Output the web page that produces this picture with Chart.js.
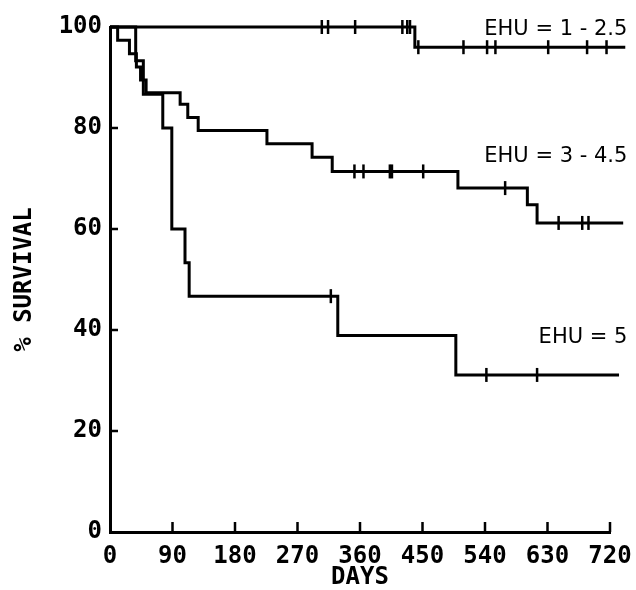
<!DOCTYPE html>
<html>
<head>
<meta charset="utf-8">
<script src="https://cdn.jsdelivr.net/npm/chart.js@4.4.1/dist/chart.umd.min.js"></script>
<style>
  body { margin: 0; background: #fff; }
  canvas { display: block; }
</style>
</head>
<body>
<canvas id="survivalChart" width="636" height="590"></canvas>
<script>
// Kaplan-Meier curves: days and % survival
const lowDays = [0, 439, 742];
const lowPct = [100, 96, 96];
const lowCensorDays = [305, 314, 353, 421, 428, 432, 444, 509, 543, 555, 631, 687, 715];
const lowCensorPct = [100, 100, 100, 100, 100, 100, 96, 96, 96, 96, 96, 96, 96];

const midDays = [0, 11, 28, 38, 44, 52, 101, 112, 127, 226, 291, 320, 501, 601, 615, 739];
const midPct = [100, 97.4, 94.7, 92.1, 89.5, 87, 84.7, 82.1, 79.5, 76.9, 74.2, 71.4, 68.1, 64.8, 61.2, 61.2];
const midCensorDays = [352, 365, 403, 406, 451, 569, 646, 680, 689];
const midCensorPct = [71.4, 71.4, 71.4, 71.4, 71.4, 68.1, 61.2, 61.2, 61.2];

const highDays = [0, 37, 48, 76, 89, 108, 114, 328, 498, 733];
const highPct = [100, 93.3, 86.7, 80, 60, 53.3, 46.7, 38.9, 31.1, 31.1];
const highCensorDays = [318, 542, 615];
const highCensorPct = [46.7, 31.1, 31.1];

const curveLabels = ["EHU = 1 - 2.5", "EHU = 3 - 4.5", "EHU = 5"];
const dayTicks = [0, 90, 180, 270, 360, 450, 540, 630, 720];
const pctTicks = [0, 20, 40, 60, 80, 100];

function pts(xs, ys) {
    return xs.map((d, i) => ({ x: d, y: ys[i] }));
}

function curve(xs, ys) {
    return {
        data: pts(xs, ys),
        borderColor: "#000",
        borderWidth: 3,
        pointRadius: 0,
        stepped: "before",
        fill: false,
        clip: false
    };
}

function censors(xs, ys) {
    return {
        data: pts(xs, ys),
        showLine: false,
        pointStyle: "line",
        pointRotation: 90,
        pointRadius: 7,
        pointBorderWidth: 2.5,
        pointBorderColor: "#000",
        clip: false
    };
}

// inward tick marks and the curve labels
const plotMarks = {
    id: "plotMarks",
    afterDraw(chart) {
        const { ctx, scales: { x, y } } = chart;
        ctx.save();
        ctx.strokeStyle = "#000";
        ctx.lineWidth = 2.5;
        ctx.beginPath();
        dayTicks.slice(1).forEach(d => {
            const px = x.getPixelForValue(d);
            ctx.moveTo(px, y.bottom);
            ctx.lineTo(px, y.bottom - 10);
        });
        pctTicks.slice(1, -1).forEach(p => {
            const py = y.getPixelForValue(p);
            ctx.moveTo(x.left, py);
            ctx.lineTo(x.left + 8, py);
        });
        ctx.stroke();

        ctx.fillStyle = "#000";
        ctx.font = "21px 'DejaVu Sans'";
        ctx.textAlign = "right";
        ctx.textBaseline = "middle";
        const labelPct = [99.5, 74.3, 38.6];
        curveLabels.forEach((t, i) => {
            ctx.fillText(t, x.getPixelForValue(745), y.getPixelForValue(labelPct[i]));
        });
        ctx.restore();
    }
};

const tickFont = { family: "'DejaVu Sans Mono'", size: 24, weight: "bold" };

const ctx = document.getElementById("survivalChart").getContext("2d");
new Chart(ctx, {
    type: "line",
    data: {
        datasets: [
            curve(lowDays, lowPct),
            censors(lowCensorDays, lowCensorPct),
            curve(midDays, midPct),
            censors(midCensorDays, midCensorPct),
            curve(highDays, highPct),
            censors(highCensorDays, highCensorPct)
        ]
    },
    options: {
        responsive: false,
        animation: false,
        layout: { padding: { top: 27, right: 26 } },
        plugins: {
            legend: { display: false },
            tooltip: { enabled: false }
        },
        scales: {
            x: {
                type: "linear",
                min: 0,
                max: 720,
                afterBuildTicks: s => { s.ticks = dayTicks.map(v => ({ value: v })); },
                afterFit: s => { s.height = 58; },
                grid: { display: false },
                border: { display: true, color: "#000", width: 3 },
                ticks: { color: "#000", font: tickFont, padding: 2, maxRotation: 0, autoSkip: false },
                title: {
                    display: true,
                    text: "DAYS",
                    color: "#000",
                    font: { family: "'DejaVu Sans Mono'", size: 24, weight: "bold", lineHeight: 1 },
                    padding: { top: 0, bottom: 0 }
                }
            },
            y: {
                min: 0,
                max: 100,
                afterBuildTicks: s => { s.ticks = pctTicks.map(v => ({ value: v })); },
                afterFit: s => { s.width = 110; },
                grid: { display: false },
                border: { display: true, color: "#000", width: 3 },
                ticks: { color: "#000", font: tickFont, padding: 0 },
                title: {
                    display: true,
                    text: "% SURVIVAL",
                    color: "#000",
                    font: { family: "'DejaVu Sans Mono'", size: 24, weight: "bold" },
                    padding: { top: 10, bottom: 0 }
                }
            }
        }
    },
    plugins: [plotMarks]
});
</script>
</body>
</html>
